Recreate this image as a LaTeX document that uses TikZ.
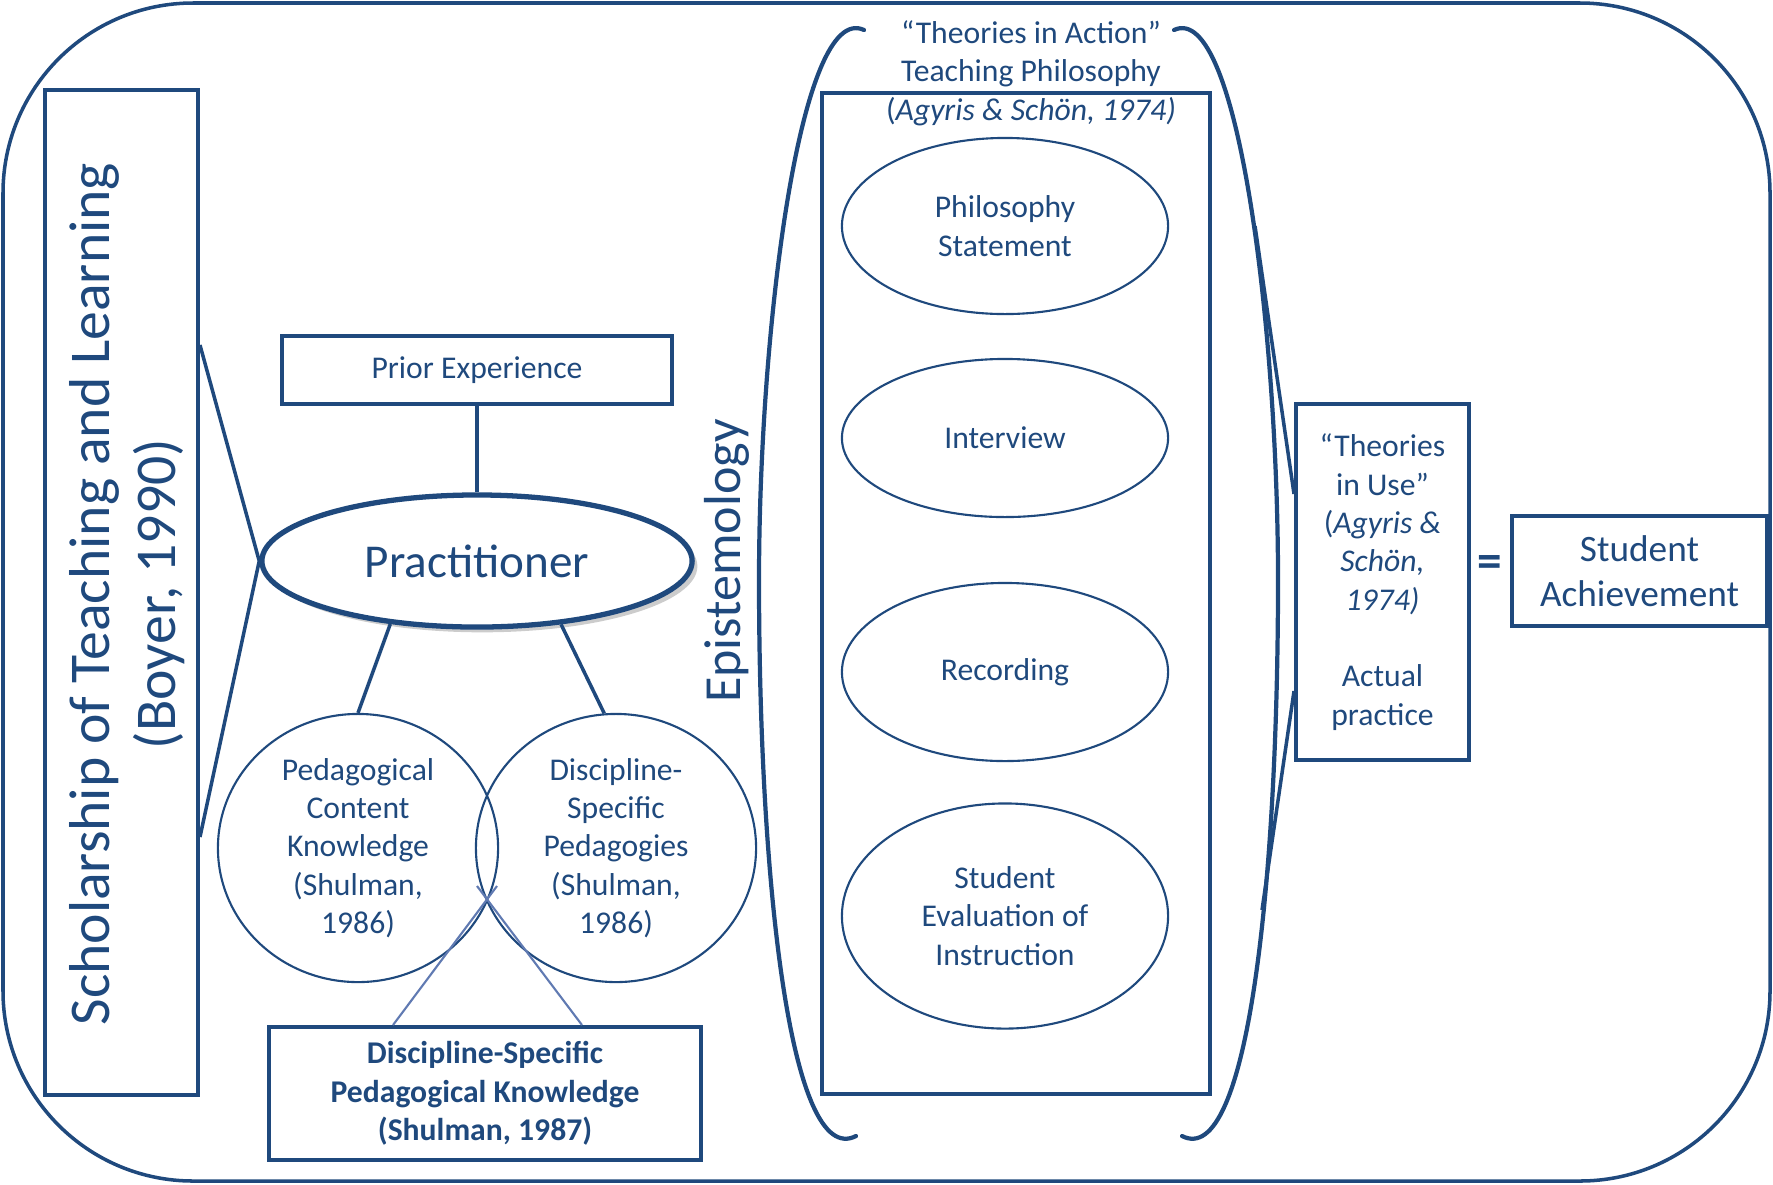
\documentclass[tikz,border=0pt]{standalone}
\usepackage{fontspec}
\setmainfont{Carlito}
\usetikzlibrary{shapes.geometric,shadows}
\definecolor{ink}{RGB}{31,73,125}
\definecolor{thinink}{RGB}{96,122,178}

\begin{document}
\begin{tikzpicture}[x=0.01cm, y=-0.01cm,
  every node/.style={text=ink, align=center, font=\fontsize{9}{10.9}\selectfont},
  box/.style={draw=ink, line width=1.1pt, inner sep=0pt},
  oval/.style={ellipse, draw=ink, line width=0.6pt, inner sep=0pt, minimum width=3.26cm},
  edge/.style={draw=ink, line width=1pt},
  thinedge/.style={draw=thinink, line width=0.6pt},
  paren/.style={draw=ink, line width=1.2pt, line cap=round}
]
\useasboundingbox (0,0) rectangle (1773,1184);
\draw[ink, line width=1pt, rounded corners=1.9cm] (3,3) rectangle (1770,1181);

% the two big brackets round the philosophy column
\draw[paren] (864,30) .. controls (800,0) and (759,330) .. (759,580)
  .. controls (759,880) and (790,1170) .. (856,1136);
\draw[paren] (1174,30) .. controls (1238,0) and (1278,330) .. (1278,580)
  .. controls (1278,880) and (1248,1170) .. (1182,1136);

% left part
\node[box, minimum width=1.53cm, minimum height=10.05cm] (sotl) at (121.5,592.5) {};
\node[rotate=90, font=\fontsize{16.4}{18.7}\selectfont] (sotltxt) at (127,594) {Scholarship of Teaching and Learning\\(Boyer, 1990)};
\node[box, minimum width=3.9cm, minimum height=0.68cm] (prior) at (477,370) {Prior Experience};
\node[ellipse, draw=ink, line width=1.5pt, fill=white, inner sep=0pt,
  minimum width=4.3cm, minimum height=1.32cm,
  drop shadow={shadow xshift=1.5pt, shadow yshift=-1.5pt, fill=black!50, opacity=.4},
  font=\fontsize{13.4}{16}\selectfont] (prac) at (477,561) {Practitioner};
\node[oval, minimum width=2.8cm, minimum height=2.68cm] (pck) at (358,848) {Pedagogical\\Content\\Knowledge\\(Shulman,\\1986)};
\node[oval, minimum width=2.8cm, minimum height=2.68cm] (dsp) at (616,848) {Discipline-\\Specific\\Pedagogies\\(Shulman,\\1986)};
\node[box, minimum width=4.32cm, minimum height=1.33cm, font=\bfseries\fontsize{9}{10.9}\selectfont] (dspk) at (485,1093.5) {Discipline-Specific\\Pedagogical Knowledge\\(Shulman, 1987)};

% middle column
\node[rotate=90, font=\fontsize{14.8}{17}\selectfont] (epi) at (727,561) {Epistemology};
\node[box, minimum width=3.88cm, minimum height=10.01cm] (tia) at (1016,593.5) {};
\node (tiatxt) at (1031,73) {“Theories in Action”\\Teaching Philosophy\\(\textit{Agyris \& Schön, 1974)}};
\node[oval, minimum height=1.76cm] (phil) at (1005,226) {Philosophy\\Statement};
\node[oval, minimum height=1.58cm] (intv) at (1005,438) {Interview};
\node[oval, minimum height=1.78cm] (rec) at (1005,672) {Recording};
\node[oval, minimum height=2.25cm] (sei) at (1005,916) {Student\\Evaluation of\\Instruction};

% right part
\node[box, minimum width=1.73cm, minimum height=3.56cm] (tiu) at (1382.5,582) {“Theories\\in Use”\\(\textit{Agyris \&}\\\textit{Schön,}\\\textit{1974)}\\[10.9pt]Actual\\practice};
\node[font=\bfseries\fontsize{14}{16}\selectfont] (eq) at (1490,566) {=};
\node[box, minimum width=2.55cm, minimum height=1.10cm, font=\fontsize{10.6}{12.8}\selectfont] (ach) at (1639.5,571) {Student\\Achievement};

% connectors
\draw[edge] (sotl.east |- 0,345) -- (prac.west) -- (sotl.east |- 0,837);
\draw[edge] (prior) -- (prac);
\draw[edge] (prac.216) -- (pck.north);
\draw[edge] (prac.323) -- (dsp.95);

\coordinate (x1) at (497,886);
\coordinate (x2) at (477,886);
\draw[thinedge] (dspk.north -| 393,0) -- (x1);
\draw[thinedge] (dspk.north -| 582,0) -- (x2);

\coordinate (p1) at (1255,226);
\coordinate (p2) at (1262,910);
\draw[edge] (p1) -- (tiu.west |- 0,494);
\draw[edge] (p2) -- (tiu.west |- 0,691);
\end{tikzpicture}
\end{document}
